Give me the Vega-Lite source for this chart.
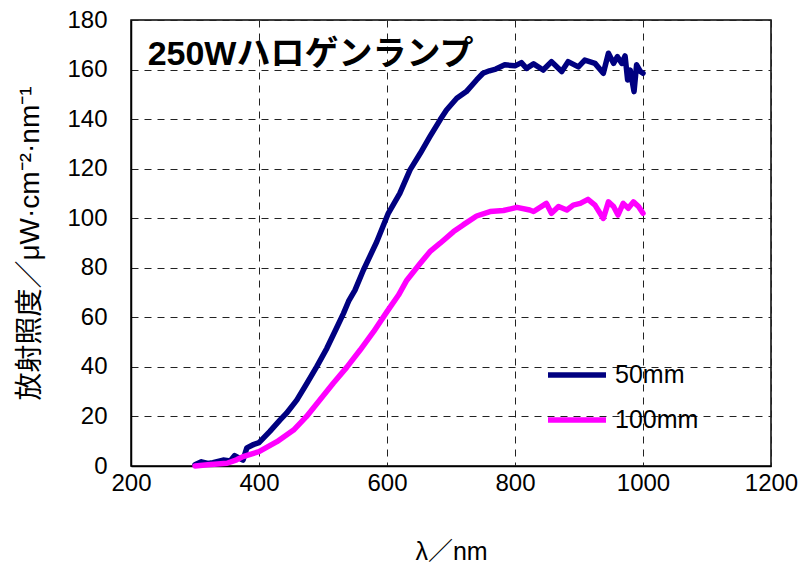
{
  "$schema": "https://vega.github.io/schema/vega-lite/v6.json",
  "width": 640,
  "height": 446,
  "autosize": {"type": "none"},
  "padding": {"left": 131, "top": 20, "right": 36, "bottom": 103},
  "background": "white",
  "config": {
    "font": "Liberation Sans",
    "view": {"stroke": "black", "strokeWidth": 1.5},
    "axis": {
      "labelFont": "Liberation Sans",
      "labelFontSize": 24,
      "labelColor": "black",
      "titleColor": "black",
      "titleFontWeight": "normal",
      "domainColor": "black",
      "domainWidth": 1.5,
      "ticks": false,
      "gridColor": "#222",
      "gridDash": [7, 6],
      "gridWidth": 1,
      "gridOpacity": 1
    }
  },
  "layer": [
    {
      "data": {
        "values": [
          {"wl": 300, "irr": 0.5, "d": "50mm"}, {"wl": 310, "irr": 1.7, "d": "50mm"}, {"wl": 320, "irr": 1.0, "d": "50mm"}, {"wl": 328, "irr": 1.3, "d": "50mm"}, {"wl": 344, "irr": 2.4, "d": "50mm"}, {"wl": 355, "irr": 2.0, "d": "50mm"}, {"wl": 362, "irr": 4.2, "d": "50mm"}, {"wl": 375, "irr": 2.4, "d": "50mm"}, {"wl": 381, "irr": 7.3, "d": "50mm"}, {"wl": 390, "irr": 8.5, "d": "50mm"}, {"wl": 400, "irr": 9.4, "d": "50mm"}, {"wl": 417, "irr": 14, "d": "50mm"}, {"wl": 433, "irr": 18.6, "d": "50mm"}, {"wl": 443, "irr": 21.3, "d": "50mm"}, {"wl": 459, "irr": 26.6, "d": "50mm"}, {"wl": 474, "irr": 33, "d": "50mm"}, {"wl": 490, "irr": 40, "d": "50mm"}, {"wl": 506, "irr": 47.5, "d": "50mm"}, {"wl": 521, "irr": 55.6, "d": "50mm"}, {"wl": 532, "irr": 61.6, "d": "50mm"}, {"wl": 540, "irr": 66.5, "d": "50mm"}, {"wl": 550, "irr": 71, "d": "50mm"}, {"wl": 563, "irr": 79, "d": "50mm"}, {"wl": 584, "irr": 90.5, "d": "50mm"}, {"wl": 602, "irr": 102, "d": "50mm"}, {"wl": 620, "irr": 110, "d": "50mm"}, {"wl": 636, "irr": 119.5, "d": "50mm"}, {"wl": 652, "irr": 126.2, "d": "50mm"}, {"wl": 667, "irr": 132.9, "d": "50mm"}, {"wl": 683, "irr": 139.7, "d": "50mm"}, {"wl": 693, "irr": 143.7, "d": "50mm"}, {"wl": 709, "irr": 148.4, "d": "50mm"}, {"wl": 724, "irr": 151.1, "d": "50mm"}, {"wl": 740, "irr": 155.8, "d": "50mm"}, {"wl": 750, "irr": 158.5, "d": "50mm"}, {"wl": 760, "irr": 159.5, "d": "50mm"}, {"wl": 770, "irr": 160.2, "d": "50mm"}, {"wl": 784, "irr": 161.9, "d": "50mm"}, {"wl": 800, "irr": 161.5, "d": "50mm"}, {"wl": 810, "irr": 162.8, "d": "50mm"}, {"wl": 818, "irr": 160.5, "d": "50mm"}, {"wl": 829, "irr": 162.3, "d": "50mm"}, {"wl": 844, "irr": 159.8, "d": "50mm"}, {"wl": 857, "irr": 163.2, "d": "50mm"}, {"wl": 873, "irr": 159.2, "d": "50mm"}, {"wl": 883, "irr": 163.2, "d": "50mm"}, {"wl": 899, "irr": 161.1, "d": "50mm"}, {"wl": 909, "irr": 163.8, "d": "50mm"}, {"wl": 925, "irr": 162.5, "d": "50mm"}, {"wl": 938, "irr": 158.5, "d": "50mm"}, {"wl": 946, "irr": 166.6, "d": "50mm"}, {"wl": 954, "irr": 162.5, "d": "50mm"}, {"wl": 960, "irr": 165.2, "d": "50mm"}, {"wl": 967, "irr": 162.5, "d": "50mm"}, {"wl": 972, "irr": 165.5, "d": "50mm"}, {"wl": 976, "irr": 155.8, "d": "50mm"}, {"wl": 980, "irr": 159.8, "d": "50mm"}, {"wl": 986, "irr": 151.1, "d": "50mm"}, {"wl": 990, "irr": 161.9, "d": "50mm"}, {"wl": 996, "irr": 159.2, "d": "50mm"}, {"wl": 1000, "irr": 158.5, "d": "50mm"},
          {"wl": 300, "irr": 0, "d": "100mm"}, {"wl": 320, "irr": 0.5, "d": "100mm"}, {"wl": 335, "irr": 0.8, "d": "100mm"}, {"wl": 350, "irr": 1.1, "d": "100mm"}, {"wl": 365, "irr": 2.5, "d": "100mm"}, {"wl": 375, "irr": 3.8, "d": "100mm"}, {"wl": 400, "irr": 5.8, "d": "100mm"}, {"wl": 428, "irr": 9.8, "d": "100mm"}, {"wl": 454, "irr": 14.5, "d": "100mm"}, {"wl": 474, "irr": 19.9, "d": "100mm"}, {"wl": 495, "irr": 26.6, "d": "100mm"}, {"wl": 516, "irr": 33.4, "d": "100mm"}, {"wl": 537, "irr": 39.8, "d": "100mm"}, {"wl": 558, "irr": 46.8, "d": "100mm"}, {"wl": 579, "irr": 54.2, "d": "100mm"}, {"wl": 600, "irr": 62.3, "d": "100mm"}, {"wl": 618, "irr": 69, "d": "100mm"}, {"wl": 631, "irr": 75, "d": "100mm"}, {"wl": 652, "irr": 81.8, "d": "100mm"}, {"wl": 667, "irr": 86.5, "d": "100mm"}, {"wl": 683, "irr": 89.9, "d": "100mm"}, {"wl": 704, "irr": 94.6, "d": "100mm"}, {"wl": 719, "irr": 97.3, "d": "100mm"}, {"wl": 740, "irr": 100.9, "d": "100mm"}, {"wl": 761, "irr": 102.7, "d": "100mm"}, {"wl": 782, "irr": 103.1, "d": "100mm"}, {"wl": 803, "irr": 104.4, "d": "100mm"}, {"wl": 823, "irr": 103.3, "d": "100mm"}, {"wl": 829, "irr": 102.7, "d": "100mm"}, {"wl": 849, "irr": 106, "d": "100mm"}, {"wl": 857, "irr": 102, "d": "100mm"}, {"wl": 868, "irr": 104.7, "d": "100mm"}, {"wl": 881, "irr": 103.3, "d": "100mm"}, {"wl": 891, "irr": 105.3, "d": "100mm"}, {"wl": 902, "irr": 106, "d": "100mm"}, {"wl": 914, "irr": 107.6, "d": "100mm"}, {"wl": 925, "irr": 105.3, "d": "100mm"}, {"wl": 938, "irr": 99.9, "d": "100mm"}, {"wl": 946, "irr": 106.6, "d": "100mm"}, {"wl": 954, "irr": 104.7, "d": "100mm"}, {"wl": 961, "irr": 101.3, "d": "100mm"}, {"wl": 969, "irr": 106, "d": "100mm"}, {"wl": 977, "irr": 104, "d": "100mm"}, {"wl": 985, "irr": 106.6, "d": "100mm"}, {"wl": 993, "irr": 104.7, "d": "100mm"}, {"wl": 1000, "irr": 102, "d": "100mm"}
        ]
      },
      "mark": {"type": "line", "strokeWidth": 5.5, "strokeJoin": "round", "strokeCap": "round"},
      "encoding": {
        "x": {
          "field": "wl", "type": "quantitative",
          "scale": {"domain": [200, 1200], "nice": false, "zero": false},
          "axis": {
            "values": [200, 400, 600, 800, 1000, 1200],
            "format": "d",
            "title": "λ／nm",
            "titleFont": "Liberation Sans, Noto Sans CJK JP",
            "titleFontSize": 25,
            "titlePadding": 44,
            "labelPadding": 5,
            "labelFlush": false
          }
        },
        "y": {
          "field": "irr", "type": "quantitative",
          "scale": {"domain": [0, 180], "nice": false},
          "axis": {
            "values": [0, 20, 40, 60, 80, 100, 120, 140, 160, 180],
            "title": "放射照度／μW·cm⁻²·nm⁻¹",
            "titleFont": "Liberation Sans, Noto Sans CJK JP",
            "titleFontSize": 28,
            "titlePadding": 22,
            "labelPadding": 24
          }
        },
        "color": {
          "field": "d", "type": "nominal",
          "scale": {"domain": ["50mm", "100mm"], "range": ["#000080", "#FF00FF"]},
          "legend": {
            "title": null,
            "orient": "none",
            "legendX": 414,
            "legendY": 323,
            "symbolType": "stroke",
            "symbolSize": 3364,
            "symbolStrokeWidth": 5.5,
            "labelFontSize": 25,
            "labelColor": "black",
            "labelOffset": 6,
            "rowPadding": -14,
            "padding": 0
          }
        }
      }
    },
    {
      "data": {"values": [{"label": "250Wハロゲンランプ"}]},
      "mark": {"type": "text", "align": "left", "baseline": "alphabetic", "fontSize": 34, "fontWeight": "bold", "font": "Liberation Sans, Noto Sans CJK JP", "color": "black"},
      "encoding": {
        "x": {"datum": 226},
        "y": {"datum": 162},
        "text": {"field": "label"}
      }
    }
  ]
}
